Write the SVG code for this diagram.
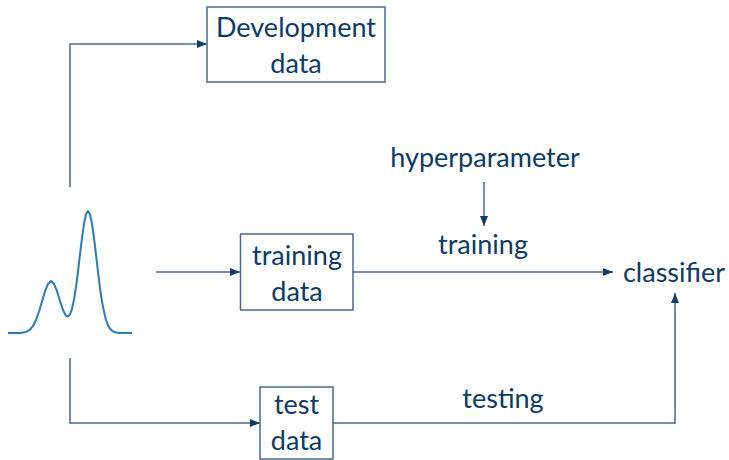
<svg xmlns="http://www.w3.org/2000/svg" width="729" height="460" viewBox="0 0 729 460">
<style>
.box{fill:#fff;stroke:#4a6a90;stroke-width:1.5}
.ln{fill:none;stroke:#4a6a90;stroke-width:1.5}
.t{font-family:Lato,"Open Sans",sans-serif;font-size:27px;fill:#0d3a66;text-anchor:middle}
.curve{fill:none;stroke:#2b7bba;stroke-width:2;stroke-linejoin:round}
</style>
<defs>
<marker id="arr" viewBox="0 0 10 8" refX="10" refY="4" markerWidth="10" markerHeight="8" markerUnits="userSpaceOnUse" orient="auto">
<path d="M0,0 L10,4 L0,8 Z" fill="#0f3d6b"/>
</marker>
</defs>
<rect width="729" height="460" fill="#fff"/>
<g id="distribution">
<polyline class="curve" points="8,333 20,332.9 26,331.9 30,329.6 33,326 36,320 39,311.6 42,301.5 45,291.4 48,283.8 51,281 54,283.8 57,291.2 60,301 63,310 66,315.8 68,316.6 70,314.4 72,308.8 74,299.6 76,286.9 78,271.4 80,254.4 82,237.8 84,223.8 86,214.3 88,211 90,214.3 92,223.8 94,237.9 96,254.7 98,271.9 100,288 102,301.6 104,311.6 106,320 108,325.3 110,328.7 113,331.4 116,332.5 120,332.9 132,333"/>
</g>
<g id="connectors">
<path class="ln" d="M70,187 V44 H207" marker-end="url(#arr)"/>
<path class="ln" d="M156,272 H240" marker-end="url(#arr)"/>
<path class="ln" d="M70,358 V423 H260" marker-end="url(#arr)"/>
<path class="ln" d="M353,272 H613" marker-end="url(#arr)"/>
<path class="ln" d="M333,423 H675 V293" marker-end="url(#arr)"/>
<path class="ln" d="M484,182 V226" marker-end="url(#arr)"/>
<text class="t" x="483" y="254">training</text>
<text class="t" x="503" y="408">testing</text>
</g>
<g id="development-data">
<rect class="box" x="207" y="7" width="178" height="75"/>
<text class="t" x="296" y="37">Development</text>
<text class="t" x="296" y="73">data</text>
</g>
<g id="training-data">
<rect class="box" x="240.5" y="234" width="112.5" height="76"/>
<text class="t" x="297" y="265">training</text>
<text class="t" x="297" y="301">data</text>
</g>
<g id="test-data">
<rect class="box" x="260" y="387" width="73" height="72"/>
<text class="t" x="296.5" y="414">test</text>
<text class="t" x="296.5" y="450">data</text>
</g>
<g id="hyperparameter">
<text class="t" x="485" y="167">hyperparameter</text>
</g>
<g id="classifier">
<text class="t" x="674" y="282">classifier</text>
</g>
</svg>
